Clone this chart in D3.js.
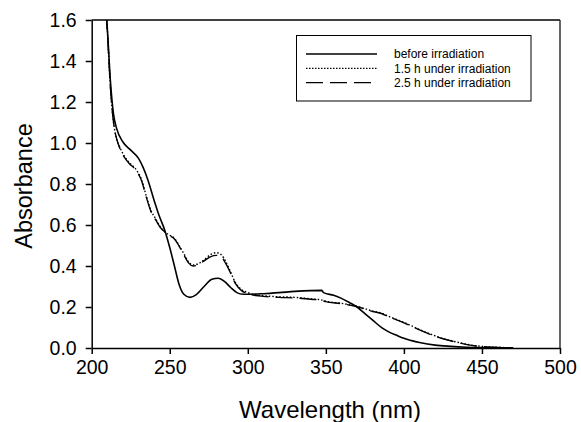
<!DOCTYPE html>
<html>
<head>
<meta charset="utf-8">
<script src="https://cdn.jsdelivr.net/npm/d3@7"></script>
<style>
  html, body { margin: 0; padding: 0; background: #fff; }
  svg { display: block; font-family: Arial, "Liberation Sans", sans-serif; }
</style>
</head>
<body>
<svg id="chart" width="581" height="422"></svg>
<script>
// ---- data ----
const xTicks = [200, 250, 300, 350, 400, 450, 500];
const yTicks = [0.0, 0.2, 0.4, 0.6, 0.8, 1.0, 1.2, 1.4, 1.6];

const seriesNames = ["before irradiation", "1.5 h under irradiation", "2.5 h under irradiation"];

const wlBefore = [208, 210, 212, 214, 216, 220, 225, 230, 233, 236, 240, 243, 247, 250, 253, 256, 259, 263, 267, 272, 277, 281, 285, 289, 293, 297, 300, 310, 320, 330, 340, 347.5, 348.5, 355, 360, 365, 370, 375, 380, 386, 390, 395, 400, 405, 410, 420, 430, 440, 450, 460, 470];
const absBefore = [1.75, 1.56, 1.30, 1.14, 1.07, 1.005, 0.965, 0.925, 0.88, 0.82, 0.72, 0.65, 0.57, 0.49, 0.40, 0.31, 0.262, 0.247, 0.26, 0.30, 0.335, 0.34, 0.325, 0.295, 0.27, 0.262, 0.262, 0.265, 0.27, 0.276, 0.28, 0.281, 0.27, 0.257, 0.242, 0.222, 0.200, 0.168, 0.136, 0.098, 0.080, 0.063, 0.047, 0.036, 0.027, 0.014, 0.008, 0.004, 0.002, 0.001, 0.0];

const wlIrr = [208, 210, 212, 214, 216, 218, 221, 224, 228, 232, 235, 238, 241, 244, 247, 250, 253, 256, 259, 262, 265, 268, 272, 276, 280, 283, 286, 289, 292, 296, 300, 305, 310, 320, 330, 340, 347, 350, 360, 370, 380, 386, 390, 395, 400, 405, 410, 418, 425, 435, 445, 450, 460, 470];
const abs15h = [1.75, 1.55, 1.27, 1.10, 1.02, 0.98, 0.935, 0.905, 0.875, 0.82, 0.74, 0.67, 0.63, 0.59, 0.565, 0.55, 0.535, 0.50, 0.46, 0.42, 0.405, 0.41, 0.43, 0.455, 0.465, 0.455, 0.42, 0.37, 0.32, 0.285, 0.27, 0.26, 0.255, 0.25, 0.247, 0.24, 0.235, 0.228, 0.218, 0.203, 0.18, 0.169, 0.155, 0.14, 0.125, 0.108, 0.09, 0.065, 0.046, 0.027, 0.012, 0.008, 0.003, 0.001];
const abs25h = [1.75, 1.55, 1.27, 1.10, 1.02, 0.975, 0.93, 0.90, 0.87, 0.815, 0.735, 0.665, 0.625, 0.588, 0.565, 0.548, 0.532, 0.497, 0.455, 0.415, 0.40, 0.405, 0.425, 0.445, 0.452, 0.445, 0.41, 0.365, 0.315, 0.28, 0.265, 0.256, 0.252, 0.247, 0.244, 0.238, 0.233, 0.226, 0.216, 0.201, 0.178, 0.167, 0.153, 0.138, 0.123, 0.106, 0.088, 0.063, 0.045, 0.026, 0.011, 0.007, 0.003, 0.001];

// ---- layout ----
const svg = d3.select("#chart");
const mLeft = 91.7, mRight = 560, mTop = 20, mBottom = 348;

const x = d3.scaleLinear().domain([200, 500]).range([mLeft, mRight]);
const y = d3.scaleLinear().domain([0, 1.6]).range([mBottom, mTop]);

svg.append("defs").append("clipPath").attr("id", "plotclip")
  .append("rect").attr("x", mLeft).attr("y", mTop)
  .attr("width", mRight - mLeft).attr("height", mBottom - mTop);

// frame (top and right)
svg.append("line").attr("x1", mLeft).attr("x2", mRight).attr("y1", mTop).attr("y2", mTop)
  .attr("stroke", "#000").attr("stroke-width", 1.5);
svg.append("line").attr("x1", mRight).attr("x2", mRight).attr("y1", mTop).attr("y2", mBottom)
  .attr("stroke", "#333").attr("stroke-width", 1.5);

// axes
const xAxis = d3.axisBottom(x).tickValues(xTicks).tickSize(6).tickSizeOuter(0).tickPadding(6)
  .tickFormat(d3.format("d"));
const yAxis = d3.axisLeft(y).tickValues(yTicks).tickSize(6).tickSizeOuter(0).tickPadding(9)
  .tickFormat(d3.format(".1f"));

const gx = svg.append("g").attr("transform", `translate(0,${mBottom})`).call(xAxis);
const gy = svg.append("g").attr("transform", `translate(${mLeft},0)`).call(yAxis);

[gx, gy].forEach(g => {
  g.select(".domain").attr("stroke", "#000").attr("stroke-width", 1.5);
  g.selectAll(".tick line").attr("stroke", "#000").attr("stroke-width", 1.5);
  g.selectAll(".tick text").attr("fill", "#000").style("font-size", "19.5px")
    .style("font-family", "Arial, 'Liberation Sans', sans-serif");
});
gx.selectAll(".tick text").attr("dy", "0.71em");

// axis titles
svg.append("text").attr("x", 330).attr("y", 418)
  .attr("text-anchor", "middle").style("font-size", "24px").attr("fill", "#000")
  .text("Wavelength (nm)");
svg.append("text").attr("transform", "translate(32,186) rotate(-90)")
  .attr("text-anchor", "middle").style("font-size", "23.5px").attr("fill", "#000")
  .text("Absorbance");

// curves
const styles = [
  { dash: null, width: 1.6 },
  { dash: "1.5,2", width: 1.4 },
  { dash: "17,7", width: 1.4 }
];
const data = [
  wlBefore.map((w, i) => [w, absBefore[i]]),
  wlIrr.map((w, i) => [w, abs15h[i]]),
  wlIrr.map((w, i) => [w, abs25h[i]])
];
const line = d3.line().x(d => x(d[0])).y(d => y(d[1])).curve(d3.curveMonotoneX);
const gp = svg.append("g").attr("clip-path", "url(#plotclip)");
data.forEach((ser, i) => {
  gp.append("path").datum(ser).attr("d", line)
    .attr("fill", "none").attr("stroke", "#000")
    .attr("stroke-width", styles[i].width)
    .attr("stroke-dasharray", styles[i].dash);
});

// legend
const lg = svg.append("g");
lg.append("rect").attr("x", 296.5).attr("y", 35.5).attr("width", 234.5).attr("height", 65.5)
  .attr("fill", "#fff").attr("stroke", "#000").attr("stroke-width", 1);
seriesNames.forEach((name, i) => {
  const yy = 54 + i * 14.3;
  lg.append("line").attr("x1", 306).attr("x2", 377).attr("y1", yy).attr("y2", yy)
    .attr("stroke", "#000").attr("stroke-width", i === 1 ? 1.2 : 1.4)
    .attr("stroke-dasharray", i === 1 ? "1.5,1.5" : styles[i].dash);
  lg.append("text").attr("x", 394).attr("y", yy + 4.3)
    .style("font-size", "12px").attr("fill", "#000").text(name);
});
</script>
</body>
</html>
